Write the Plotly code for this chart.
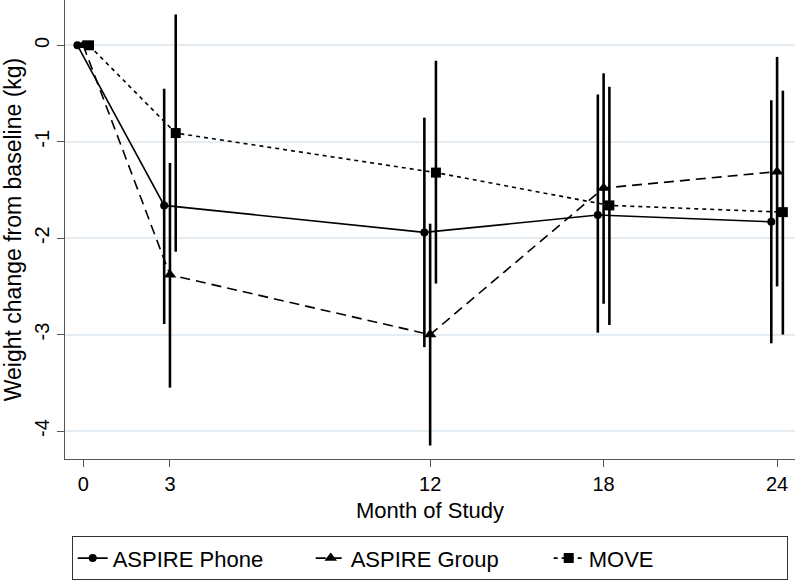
import plotly.graph_objects as go

# ---- data ----
months = [0, 3, 12, 18, 24]
tick_labels = ["0", "3", "12", "18", "24"]

phone_mean = [0, -1.66, -1.94, -1.76, -1.83]
phone_low = [0, -2.89, -3.13, -2.98, -3.09]
phone_high = [0, -0.45, -0.75, -0.51, -0.57]

group_mean = [0, -2.38, -3.00, -1.48, -1.31]
group_low = [0, -3.55, -4.15, -2.68, -2.50]
group_high = [0, -1.22, -1.85, -0.29, -0.12]

move_mean = [0, -0.91, -1.32, -1.66, -1.73]
move_low = [0, -2.14, -2.47, -2.90, -3.00]
move_high = [0, 0.32, -0.16, -0.43, -0.47]

y_ticks = [0, -1, -2, -3, -4]

# ---- styling ----
FONT = "Liberation Sans, Arial, sans-serif"
DODGE = 0.2
AXIS_COLOR = "#555555"
GRID_COLOR = "#e4ecf1"


def add_series(fig, name, mean, low, high, offset, dash, symbol, msize):
    x = [m + offset for m in months]
    plus = [h - m for h, m in zip(high, mean)]
    minus = [m - l for m, l in zip(mean, low)]
    fig.add_trace(go.Scatter(
        x=x, y=mean, name=name, mode="lines+markers",
        line=dict(color="black", width=1.6, dash=dash),
        marker=dict(color="black", symbol=symbol, size=msize),
        error_y=dict(type="data", symmetric=False, array=plus, arrayminus=minus,
                     color="black", thickness=2.6, width=0),
    ))


fig = go.Figure()
add_series(fig, "ASPIRE Phone", phone_mean, phone_low, phone_high, -DODGE, "solid", "circle", 8)
add_series(fig, "ASPIRE Group", group_mean, group_low, group_high, 0.0, "10px,6px", "triangle-up", 11)
add_series(fig, "MOVE", move_mean, move_low, move_high, DODGE, "4px,4px", "square", 10)

fig.update_layout(
    width=797, height=580,
    margin=dict(l=65, r=2, t=0, b=121, autoexpand=False),
    paper_bgcolor="white", plot_bgcolor="white",
    font=dict(family=FONT, color="black", size=20),
    showlegend=True,
    legend=dict(
        orientation="h", x=0.5, xanchor="center", y=-0.168, yanchor="top",
        bordercolor="#333333", borderwidth=1.2,
        font=dict(size=22, family=FONT),
        entrywidth=193, entrywidthmode="pixels",
    ),
)

fig.update_xaxes(
    range=[-0.63, 24.62],
    tickmode="array", tickvals=months, ticktext=tick_labels,
    ticks="outside", ticklen=7, tickcolor=AXIS_COLOR, tickwidth=1.2,
    showline=True, linecolor=AXIS_COLOR, linewidth=1.4,
    showgrid=False, zeroline=False,
    tickfont=dict(size=20),
    title=dict(text="Month of Study", font=dict(size=22), standoff=8),
)
fig.update_yaxes(
    range=[-4.29, 0.47],
    tickmode="array", tickvals=y_ticks, ticktext=[str(v) for v in y_ticks],
    tickangle=-90,
    ticks="outside", ticklen=7, tickcolor=AXIS_COLOR, tickwidth=1.2,
    showline=True, linecolor=AXIS_COLOR, linewidth=1.4,
    showgrid=True, gridcolor=GRID_COLOR, gridwidth=1.5,
    zeroline=False,
    tickfont=dict(size=20),
    title=dict(text="Weight change from baseline (kg)", font=dict(size=23), standoff=8),
)

fig.write_html(
    "out.html",
    config={"displayModeBar": False},
    post_script="document.body.style.margin='0';document.body.style.padding='0';",
)
